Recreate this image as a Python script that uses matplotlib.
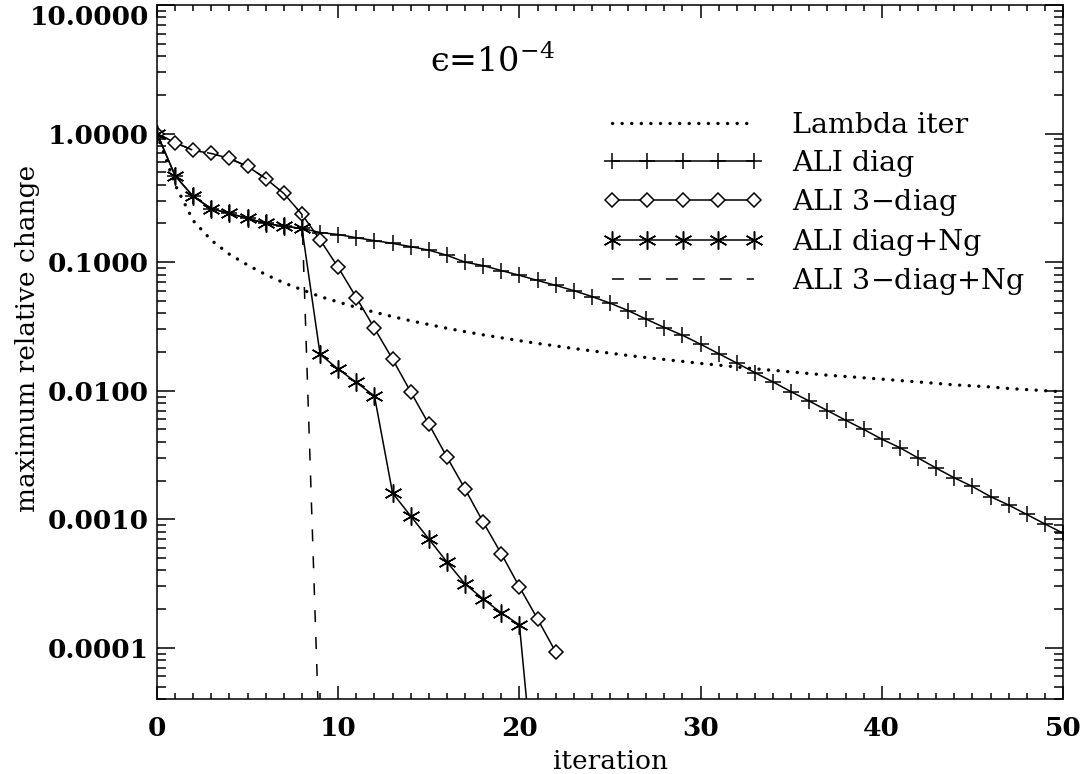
import numpy as np
import matplotlib
matplotlib.use("Agg")
import matplotlib.pyplot as plt
from matplotlib.ticker import LogLocator, FormatStrFormatter, NullFormatter, MultipleLocator

plt.rcParams.update({
    "font.family": "DejaVu Serif",
    "mathtext.fontset": "dejavuserif",
    "lines.scale_dashes": False,
})

# convergence histories
it_lambda = list(range(0, 51))
lambda_iter = [1.0, 0.40, 0.21, 0.148, 0.115, 0.095, 0.080, 0.069, 0.061, 0.054,
               0.049, 0.0445, 0.0408, 0.0377, 0.035, 0.0327, 0.0306, 0.0288, 0.0272, 0.0258,
               0.0245, 0.0233, 0.0223, 0.0213, 0.0204, 0.0196, 0.0188, 0.0181, 0.0175, 0.0169,
               0.0163, 0.0158, 0.0153, 0.0148, 0.0144, 0.0140, 0.0136, 0.0132, 0.0129, 0.0126,
               0.0123, 0.0120, 0.0117, 0.0114, 0.0111, 0.0109, 0.0107, 0.0104, 0.0102, 0.0100,
               0.0098]

it_diag = list(range(0, 51))
ali_diag = [1.0, 0.47, 0.324, 0.261, 0.239, 0.219, 0.200, 0.190, 0.183, 0.170,
            0.164, 0.155, 0.147, 0.140, 0.132, 0.124, 0.113, 0.100, 0.094, 0.086,
            0.079, 0.072, 0.066, 0.060, 0.054, 0.048, 0.042, 0.036, 0.031, 0.027,
            0.023, 0.0194, 0.0164, 0.0138, 0.0117, 0.0098, 0.0083, 0.0070, 0.0059, 0.0050,
            0.0042, 0.0036, 0.0030, 0.0025, 0.0021, 0.0018, 0.0015, 0.00129, 0.00109, 0.00092,
            0.00078]

it_3diag = list(range(0, 23))
ali_3diag = [1.0, 0.85, 0.74, 0.70, 0.64, 0.555, 0.447, 0.342, 0.235, 0.149,
             0.091, 0.053, 0.0306, 0.0176, 0.0098, 0.0055, 0.00305, 0.00172, 0.00095, 0.00054,
             0.000298, 0.000168, 9.3e-5]

it_diag_ng = list(range(0, 22))
ali_diag_ng = [1.0, 0.47, 0.324, 0.261, 0.239, 0.219, 0.200, 0.190, 0.183, 0.0192,
               0.0147, 0.0116, 0.0091, 0.0016, 0.00106, 0.000703, 0.000466, 0.000314, 0.00024, 0.000187,
               0.000151, 5e-6]

it_3diag_ng = list(range(0, 10))
ali_3diag_ng = [1.0, 0.85, 0.74, 0.70, 0.64, 0.555, 0.447, 0.342, 0.235, 1.2e-5]

fig = plt.figure(figsize=(10.88, 7.74), dpi=100)
ax = fig.add_axes([157 / 1088, 1 - 699 / 774, 906 / 1088, 694 / 774])

lw = 1.1
ax.plot(it_lambda, lambda_iter, color="black", linewidth=2.4, linestyle=(0, (0.1, 6.8)),
        dash_capstyle="round", label="Lambda iter")
ax.plot(it_diag, ali_diag, color="black", linewidth=lw, marker="+", markersize=12,
        markeredgewidth=lw, label="ALI diag")
ax.plot(it_3diag, ali_3diag, color="black", linewidth=lw, marker="D", markersize=7,
        markeredgewidth=lw, markerfacecolor="white", label="ALI 3$-$diag")
ax.plot(it_diag_ng, ali_diag_ng, color="black", linewidth=lw, marker=(6, 2, 0), markersize=13,
        markeredgewidth=lw, label="ALI diag+Ng")
ax.plot(it_3diag_ng, ali_3diag_ng, color="black", linewidth=lw, linestyle=(0, (8.6, 10.8)),
        label="ALI 3$-$diag+Ng")

ax.set_yscale("log")
ax.set_xlim(0, 50)
ax.set_ylim(4e-5, 10)

ax.xaxis.set_major_locator(MultipleLocator(10))
ax.xaxis.set_minor_locator(MultipleLocator(1))
ax.yaxis.set_major_locator(LogLocator(base=10))
ax.yaxis.set_minor_locator(LogLocator(base=10, subs=np.arange(2, 10)))
ax.yaxis.set_major_formatter(FormatStrFormatter("%.4f"))
ax.yaxis.set_minor_formatter(NullFormatter())

ax.tick_params(which="both", direction="in", top=True, right=True, width=1.1)
ax.tick_params(axis="x", which="major", length=9.4, pad=12)
ax.tick_params(axis="x", which="minor", length=4.3)
ax.tick_params(axis="y", which="major", length=13, pad=6)
ax.tick_params(axis="y", which="minor", length=6.5)
ax.tick_params(labelsize=19)
for sp in ax.spines.values():
    sp.set_linewidth(1.1)

ax.set_xlabel("iteration", fontsize=19, labelpad=6)
ax.set_ylabel("maximum relative change", fontsize=19)
ax.yaxis.set_label_coords((40 - 157) / 906, 0.52)

ax.text(0.301, 0.9035, "\u03f5=10$^{-4}$", transform=ax.transAxes,
        fontsize=24, ha="left", va="baseline")

ax.legend(loc="upper left", bbox_to_anchor=((603 - 157) / 906, 1 - (112 - 5) / 694),
          frameon=False, fontsize=20.5, numpoints=5, handlelength=5.6, handletextpad=1.05,
          labelspacing=0.37, borderpad=0, borderaxespad=0)

fig.canvas.draw()
for lab in ax.get_xticklabels() + ax.get_yticklabels():
    lab.set_fontweight("bold")
for tick in ax.yaxis.get_major_ticks():
    if np.isclose(tick.get_loc(), 10.0):
        tick.label1.set_verticalalignment("top")

fig.savefig("out.png", dpi=100)
